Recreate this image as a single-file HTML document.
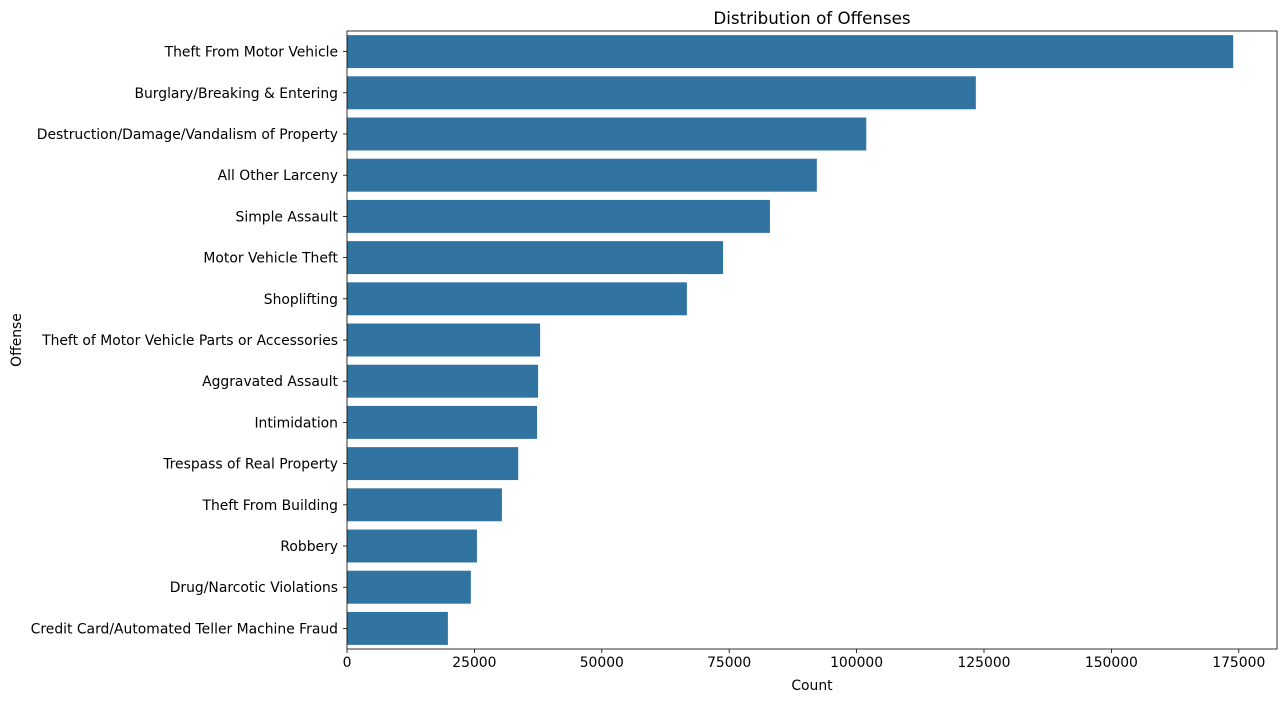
<!DOCTYPE html>
<html><head><meta charset="utf-8"><style>
body{margin:0;background:#fff;font-family:"Liberation Sans","DejaVu Sans",sans-serif;}
svg text{font-family:"DejaVu Sans","Liberation Sans",sans-serif;font-size:13.9px;fill:#000;}
</style></head><body>
<svg id="chart" width="1287" height="701"></svg>
<script>
const categories=["Theft From Motor Vehicle","Burglary/Breaking & Entering","Destruction/Damage/Vandalism of Property","All Other Larceny","Simple Assault","Motor Vehicle Theft","Shoplifting","Theft of Motor Vehicle Parts or Accessories","Aggravated Assault","Intimidation","Trespass of Real Property","Theft From Building","Robbery","Drug/Narcotic Violations","Credit Card/Automated Teller Machine Fraud"];
const counts=[173900,123400,101900,92200,83000,73800,66700,37900,37500,37300,33600,30400,25500,24300,19800];
const xTicks=[0,25000,50000,75000,100000,125000,150000,175000];
const NS="http://www.w3.org/2000/svg";
const svg=document.getElementById('chart');
const L=347,R=1277,T=31,B=649;
const xMax=182500;
const x=v=>L+v/xMax*(R-L);
const band=(B-T)/categories.length;
const y=i=>T+i*band;
function mk(tag,attrs,text){const e=document.createElementNS(NS,tag);for(const k in attrs)e.setAttribute(k,attrs[k]);if(text!==undefined)e.textContent=text;svg.appendChild(e);return e;}
categories.forEach((c,i)=>{
  const r=mk('rect',{x:L,y:y(i)+band*0.1,width:x(counts[i])-L,height:band*0.8,fill:'#3274a1'});
  
  
  mk('line',{x1:L-4,x2:L,y1:y(i)+band/2,y2:y(i)+band/2,stroke:'#000','stroke-width':0.8});
  const t=mk('text',{x:L-9,y:y(i)+band/2+5,'text-anchor':'end'},c);
  
  
});
xTicks.forEach(v=>{
  mk('line',{x1:x(v),x2:x(v),y1:B,y2:B+4,stroke:'#000','stroke-width':0.8});
  const t=mk('text',{x:x(v),y:B+18,'text-anchor':'middle'},String(v));
  
  
});
const f=mk('rect',{x:L,y:T,width:R-L,height:B-T,fill:'none',stroke:'#000','stroke-width':0.8});


const ti=mk('text',{x:(L+R)/2,y:24,'text-anchor':'middle',style:'font-size:16.7px'},'Distribution of Offenses');


const xl=mk('text',{x:(L+R)/2,y:690,'text-anchor':'middle'},'Count');


const yl=mk('text',{x:0,y:0,'text-anchor':'middle',transform:'translate(21,340) rotate(-90)'},'Offense');


</script>
</body></html>
